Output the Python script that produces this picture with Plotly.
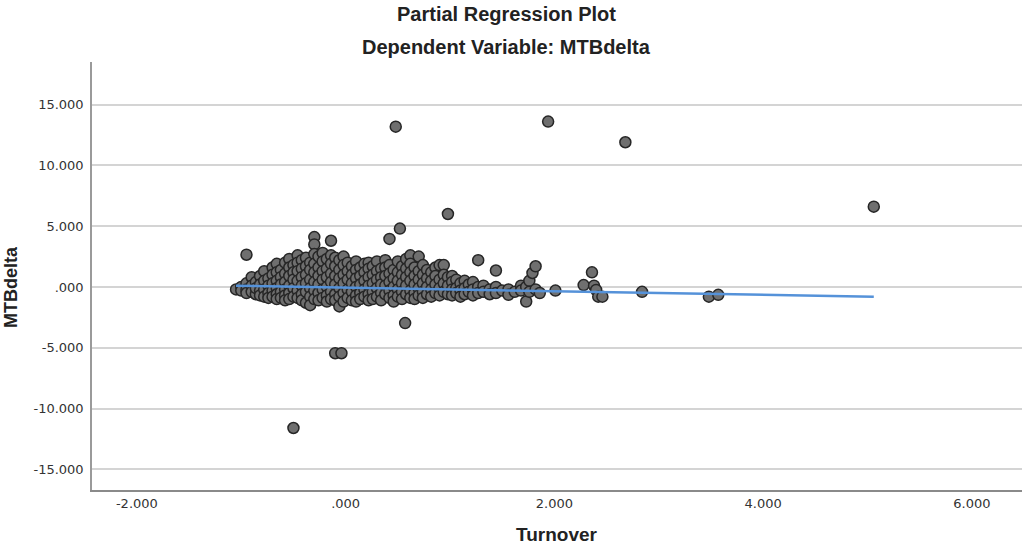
import plotly.graph_objects as go

# ---- data ----
turnover = [
    -1.05, -1.00, -1.00, -0.95, -0.95, -0.95, -0.95,
    -0.90, -0.90, -0.90, -0.86, -0.86, -0.86,
    -0.82, -0.82, -0.82, -0.82, -0.78, -0.78, -0.78, -0.78,
    -0.74, -0.74, -0.74, -0.74, -0.70, -0.70, -0.70, -0.70, -0.70,
    -0.66, -0.66, -0.66, -0.66, -0.66, -0.66, -0.62, -0.62, -0.62, -0.62, -0.62,
    -0.58, -0.58, -0.58, -0.58, -0.58, -0.58, -0.54, -0.54, -0.54, -0.54, -0.54, -0.54,
    -0.50, -0.50, -0.50, -0.50, -0.50, -0.50, -0.46, -0.46, -0.46, -0.46, -0.46, -0.46,
    -0.42, -0.42, -0.42, -0.42, -0.42, -0.42, -0.38, -0.38, -0.38, -0.38, -0.38, -0.38,
    -0.34, -0.34, -0.34, -0.34, -0.34, -0.34,
    -0.30, -0.30, -0.30, -0.30, -0.30, -0.30, -0.30, -0.30,
    -0.26, -0.26, -0.26, -0.26, -0.26, -0.26, -0.22, -0.22, -0.22, -0.22, -0.22, -0.22,
    -0.18, -0.18, -0.18, -0.18, -0.18, -0.18, -0.14, -0.14, -0.14, -0.14, -0.14, -0.14, -0.14,
    -0.10, -0.10, -0.10, -0.10, -0.10, -0.10, -0.10, -0.06, -0.06, -0.06, -0.06, -0.06, -0.06,
    -0.04, -0.02, -0.02, -0.02, -0.02, -0.02, -0.02,
    0.02, 0.02, 0.02, 0.02, 0.02, 0.06, 0.06, 0.06, 0.06, 0.06,
    0.10, 0.10, 0.10, 0.10, 0.10, 0.10, 0.14, 0.14, 0.14, 0.14, 0.14,
    0.18, 0.18, 0.18, 0.18, 0.18, 0.22, 0.22, 0.22, 0.22, 0.22, 0.22,
    0.26, 0.26, 0.26, 0.26, 0.26, 0.30, 0.30, 0.30, 0.30, 0.30,
    0.34, 0.34, 0.34, 0.34, 0.34, 0.38, 0.38, 0.38, 0.38, 0.38,
    0.42, 0.42, 0.42, 0.42, 0.42, 0.42, 0.46, 0.46, 0.46, 0.46, 0.46,
    0.48, 0.50, 0.50, 0.50, 0.50, 0.50, 0.52,
    0.54, 0.54, 0.54, 0.54, 0.54, 0.57, 0.58, 0.58, 0.58, 0.58, 0.58,
    0.62, 0.62, 0.62, 0.62, 0.62, 0.62, 0.66, 0.66, 0.66, 0.66, 0.66,
    0.70, 0.70, 0.70, 0.70, 0.70, 0.74, 0.74, 0.74, 0.74, 0.74,
    0.78, 0.78, 0.78, 0.78, 0.82, 0.82, 0.82, 0.82, 0.86, 0.86, 0.86, 0.86,
    0.90, 0.90, 0.90, 0.90, 0.94, 0.94, 0.94, 0.94, 0.98, 0.98, 0.98, 0.98,
    1.02, 1.02, 1.02, 1.02, 1.06, 1.06, 1.06, 1.10, 1.10, 1.10, 1.14, 1.14, 1.14,
    1.18, 1.18, 1.22, 1.22, 1.22, 1.27, 1.27, 1.27, 1.32, 1.32, 1.38, 1.38,
    1.44, 1.44, 1.44, 1.50, 1.56, 1.56, 1.62, 1.68, 1.68, 1.73, 1.73,
    1.76, 1.76, 1.79, 1.82, 1.82, 1.86, 1.94, 2.01, 2.28, 2.36, 2.38, 2.40, 2.42, 2.46,
    2.68, 2.84, 3.48, 3.57, 5.06,
]
mtb_delta = [
    -0.20, 0.00, -0.30, 2.65, 0.30, -0.20, -0.50,
    0.80, 0.10, -0.40, 0.40, -0.60, -0.10,
    0.90, 0.20, -0.30, -0.70, 1.30, 0.50, -0.20, -0.80,
    0.70, 0.10, -0.50, -0.90, 1.60, 1.00, 0.30, -0.30, -0.80,
    1.90, 1.20, 0.50, -0.10, -0.60, -1.00, 1.40, 0.80, 0.20, -0.40, -0.90,
    2.00, 1.10, 0.40, -0.20, -0.70, -1.10, 2.30, 1.60, 0.90, 0.10, -0.50, -1.00,
    1.80, 1.20, 0.60, -0.10, -0.80, -11.60, 2.60, 2.00, 1.30, 0.50, -0.30, -0.90,
    2.20, 1.50, 0.80, 0.10, -0.60, -1.10, 2.40, 1.70, 1.00, 0.30, -0.40, -1.30,
    2.00, 1.40, 0.60, -0.10, -0.80, -1.50,
    4.10, 3.50, 2.70, 1.90, 1.20, 0.40, -0.30, -1.00,
    2.50, 1.60, 0.90, 0.20, -0.50, -1.10, 2.80, 2.10, 1.30, 0.60, -0.20, -0.90,
    2.30, 1.50, 0.80, 0.00, -0.70, -1.20, 3.80, 2.60, 1.90, 1.10, 0.40, -0.40, -1.00,
    2.40, 1.70, 0.90, 0.20, -0.60, -1.10, -5.45, 2.20, 1.40, 0.70, -0.10, -0.80, -1.60,
    -5.45, 2.50, 1.80, 1.00, 0.30, -0.50, -1.20,
    2.00, 1.30, 0.60, -0.20, -0.90, 1.70, 1.00, 0.30, -0.40, -1.10,
    2.10, 1.40, 0.70, 0.00, -0.70, -1.20, 1.60, 0.90, 0.20, -0.50, -1.00,
    1.90, 1.20, 0.50, -0.20, -0.80, 2.00, 1.50, 0.80, 0.10, -0.60, -1.10,
    1.70, 1.00, 0.30, -0.40, -1.00, 2.10, 1.30, 0.60, -0.10, -0.80,
    1.50, 0.80, 0.20, -0.50, -1.10, 2.20, 1.60, 0.90, 0.10, -0.60,
    3.95, 1.80, 1.10, 0.40, -0.30, -0.90, 1.40, 0.70, 0.00, -0.70, -1.20,
    13.18, 2.10, 1.20, 0.50, -0.20, -0.80, 4.80,
    1.70, 1.00, 0.30, -0.40, -1.00, -2.97, 2.30, 1.50, 0.80, 0.10, -0.60,
    2.60, 1.90, 1.20, 0.50, -0.30, -0.90, 1.60, 0.90, 0.20, -0.50, -1.00,
    2.50, 1.30, 0.60, -0.10, -0.70, 1.80, 1.00, 0.30, -0.40, -0.90,
    1.40, 0.70, 0.00, -0.60, 1.20, 0.50, -0.20, -0.80, 1.60, 0.90, 0.20, -0.50,
    1.80, 0.60, -0.10, -0.70, 1.80, 1.00, 0.30, -0.40, 6.00, 0.80, 0.10, -0.60,
    0.90, 0.40, -0.20, -0.70, 0.60, -0.10, -0.50, 0.30, -0.30, -0.80, 0.50, -0.10, -0.60,
    0.20, -0.40, 0.40, -0.20, -0.70, 2.20, 0.00, -0.50, 0.10, -0.40, -0.20, -0.60,
    1.35, 0.00, -0.50, -0.30, -0.20, -0.65, -0.40, 0.10, -0.30, 0.00, -1.20,
    0.50, -0.40, 1.15, 1.70, -0.20, -0.50, 13.60, -0.30, 0.15, 1.20, 0.10, -0.25, -0.80, -0.80,
    11.90, -0.40, -0.80, -0.65, 6.60,
]
fit_slope = -0.15
fit_intercept = -0.05

x_ticks = [-2, 0, 2, 4, 6]
x_tick_text = ["-2.000", ".000", "2.000", "4.000", "6.000"]
y_ticks = [-15, -10, -5, 0, 5, 10, 15]
y_tick_text = ["-15.000", "-10.000", "-5.000", ".000", "5.000", "10.000", "15.000"]

fit_x = [min(turnover), max(turnover)]
fit_y = [fit_intercept + fit_slope * v for v in fit_x]

FONT = "DejaVu Sans, Liberation Sans, Arial, sans-serif"
TITLE_FONT = "Liberation Sans, Arial, sans-serif"

fig = go.Figure()
fig.add_trace(go.Scatter(
    x=turnover, y=mtb_delta, mode="markers",
    marker=dict(size=11, color="#6f6f6f", line=dict(width=1.5, color="#262626")),
    showlegend=False, hoverinfo="x+y",
))
fig.add_trace(go.Scatter(
    x=fit_x, y=fit_y, mode="lines",
    line=dict(color="#5592d9", width=2.5),
    showlegend=False, hoverinfo="skip",
))

fig.update_layout(
    width=1033, height=546,
    margin=dict(l=92, r=11, t=62, b=56),
    paper_bgcolor="white", plot_bgcolor="white",
    font=dict(family=FONT, size=13, color="#333333"),
    xaxis=dict(
        range=[-2.43, 6.48], tickvals=x_ticks, ticktext=x_tick_text,
        showgrid=False, zeroline=False, showline=True, linecolor="#8a8a8a", linewidth=2,
        ticks="", tickfont=dict(size=13, color="#333333"),
    ),
    yaxis=dict(
        range=[-16.7, 18.5], tickvals=y_ticks, ticktext=y_tick_text,
        showgrid=True, gridcolor="#d4d4d4", gridwidth=1.5, zeroline=False,
        showline=True, linecolor="#9a9a9a", linewidth=1.5,
        ticks="", tickfont=dict(size=13, color="#333333"), ticklabelstandoff=4,
    ),
    annotations=[
        dict(text="<b>Partial Regression Plot</b>", xref="paper", yref="paper",
             x=0.446, y=1.112, xanchor="center", yanchor="middle", showarrow=False,
             font=dict(family=TITLE_FONT, size=20, color="#222222")),
        dict(text="<b>Dependent Variable: MTBdelta</b>", xref="paper", yref="paper",
             x=0.446, y=1.035, xanchor="center", yanchor="middle", showarrow=False,
             font=dict(family=TITLE_FONT, size=20, color="#222222")),
        dict(text="<b>Turnover</b>", xref="paper", yref="paper",
             x=0.5, y=-0.103, xanchor="center", yanchor="middle", showarrow=False,
             font=dict(family=TITLE_FONT, size=19, color="#222222")),
        dict(text="<b>MTBdelta</b>", xref="paper", yref="paper", textangle=-90,
             x=-0.0872, y=0.474, xanchor="center", yanchor="middle", showarrow=False,
             font=dict(family=TITLE_FONT, size=18, color="#222222")),
    ],
)

fig.write_html("out.html", config={"displayModeBar": False},
               post_script="document.body.style.margin='0';")
